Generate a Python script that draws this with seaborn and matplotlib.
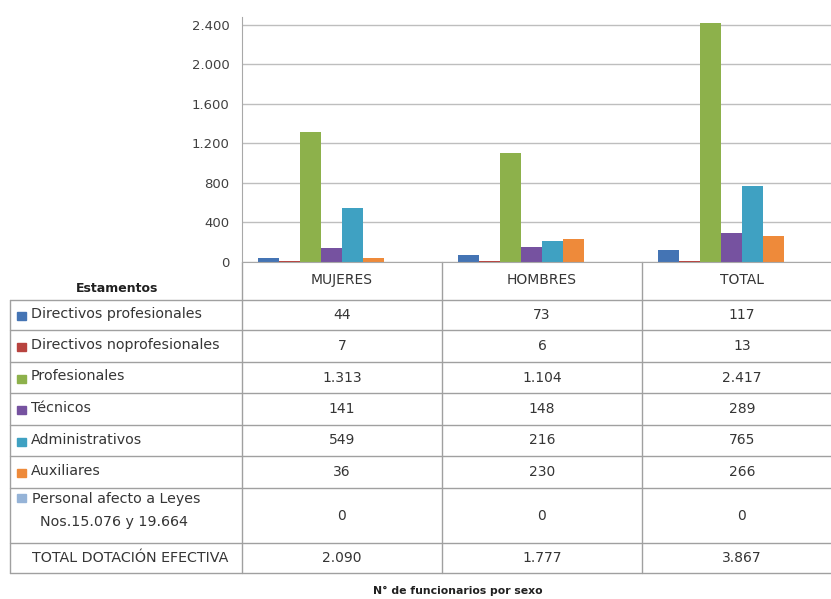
import pandas as pd
import matplotlib.pyplot as plt
import seaborn as sns
from matplotlib.ticker import FuncFormatter

grupos = ["MUJERES", "HOMBRES", "TOTAL"]
estamentos = ["Directivos profesionales", "Directivos no profesionales", "Profesionales",
              "Técnicos", "Administrativos", "Auxiliares",
              "Personal afecto a Leyes Nos.15.076 y 19.664"]
etiquetas_tabla = ["Directivos profesionales", "Directivos noprofesionales", "Profesionales",
                   "Técnicos", "Administrativos", "Auxiliares",
                   "Personal afecto a Leyes\nNos.15.076 y 19.664"]
mujeres = [44, 7, 1313, 141, 549, 36, 0]
hombres = [73, 6, 1104, 148, 216, 230, 0]
total = [117, 13, 2417, 289, 765, 266, 0]
total_dotacion = [2090, 1777, 3867]
colores = ["#4474B4", "#B8433F", "#8DB14B", "#7652A0", "#3FA1C2", "#EE8A3A", "#95B3D7"]

rows = []
for g, vals in zip(grupos, [mujeres, hombres, total]):
    for e, v in zip(estamentos, vals):
        rows.append({"Grupo": g, "Estamento": e, "N": v})
df = pd.DataFrame(rows)

# total row is a series in the original workbook but has no bar
hue_order = estamentos + ["TOTAL DOTACIÓN EFECTIVA"]
palette = dict(zip(estamentos, colores))
palette["TOTAL DOTACIÓN EFECTIVA"] = "white"


def fmt(v):
    return f"{v:,}".replace(",", ".")


sns.set_style("white")
plt.rcParams["font.family"] = ["DejaVu Sans"]

W, H = 831, 599
fig = plt.figure(figsize=(W / 100, H / 100), dpi=100)

# overlay axes in pixel coordinates for the data table
tax = fig.add_axes([0, 0, 1, 1], zorder=0)
tax.set_xlim(0, W)
tax.set_ylim(H, 0)
tax.axis("off")

ax = fig.add_axes([242 / W, (H - 262) / H, (W - 242) / W, 245 / H], zorder=1)
ax.patch.set_alpha(0)
sns.barplot(data=df, x="Grupo", y="N", hue="Estamento", order=grupos, hue_order=hue_order,
            palette=palette, width=0.84, gap=0, saturation=1, linewidth=0,
            legend=False, ax=ax)
ax.set_xlim(-0.5, -0.5 + (W - 242) / 200)
ax.set_ylim(0, 2480)
ax.set_yticks(range(0, 2401, 400))
ax.yaxis.set_major_formatter(FuncFormatter(lambda v, p: fmt(int(v))))
ax.tick_params(axis="y", labelsize=9.5, colors="#404040", length=0, pad=9)
ax.set_xticks([])
ax.set_xlabel("")
ax.set_ylabel("")
ax.grid(axis="y", color="#BEBEBE", linewidth=1)
ax.set_axisbelow(True)
for s in ["top", "right"]:
    ax.spines[s].set_visible(False)
ax.spines["left"].set_color("#A8A8A8")
ax.spines["bottom"].set_color("#A8A8A8")

# table grid
lc = "#A0A0A0"
tc = "#353535"
col_x = [242, 442, 642]
row_y = [300, 330, 362, 393, 425, 456, 488, 543, 573]
for x in col_x:
    tax.plot([x, x], [262, 573], color=lc, lw=1)
tax.plot([10, 10], [300, 573], color=lc, lw=1)
for y in row_y:
    tax.plot([10, W], [y, y], color=lc, lw=1)

tax.text(117, 288, "Estamentos", ha="center", va="center", fontsize=9,
         fontweight="bold", color="#202020")
for i, g in enumerate(grupos):
    tax.text(col_x[i] + 100, 280, g, ha="center", va="center", fontsize=10, color=tc)

for r, lab in enumerate(etiquetas_tabla):
    yc = (row_y[r] + row_y[r + 1]) / 2
    if "\n" in lab:
        top, bottom = lab.split("\n")
        tax.add_patch(plt.Rectangle((17, 494), 9, 8, color=colores[r]))
        tax.text(32, 499, top, ha="left", va="center", fontsize=10.3, color=tc)
        tax.text(40, 522, bottom, ha="left", va="center", fontsize=10.3, color=tc)
    else:
        tax.add_patch(plt.Rectangle((17, yc - 3), 9, 8, color=colores[r]))
        tax.text(31, yc - 1, lab, ha="left", va="center", fontsize=10.3, color=tc)
    for i, vals in enumerate([mujeres, hombres, total]):
        tax.text(col_x[i] + 100, yc, fmt(vals[r]), ha="center", va="center",
                 fontsize=10, color=tc)

yc = (row_y[7] + row_y[8]) / 2
tax.text(32, yc, "TOTAL DOTACIÓN EFECTIVA", ha="left", va="center", fontsize=10.3, color=tc)
for i, v in enumerate(total_dotacion):
    tax.text(col_x[i] + 100, yc, fmt(v), ha="center", va="center", fontsize=10, color=tc)

tax.text(458, 591, "N° de funcionarios por sexo", ha="center", va="center", fontsize=7.8,
         fontweight="bold", color="#202020")

fig.savefig("out.png", dpi=100)
